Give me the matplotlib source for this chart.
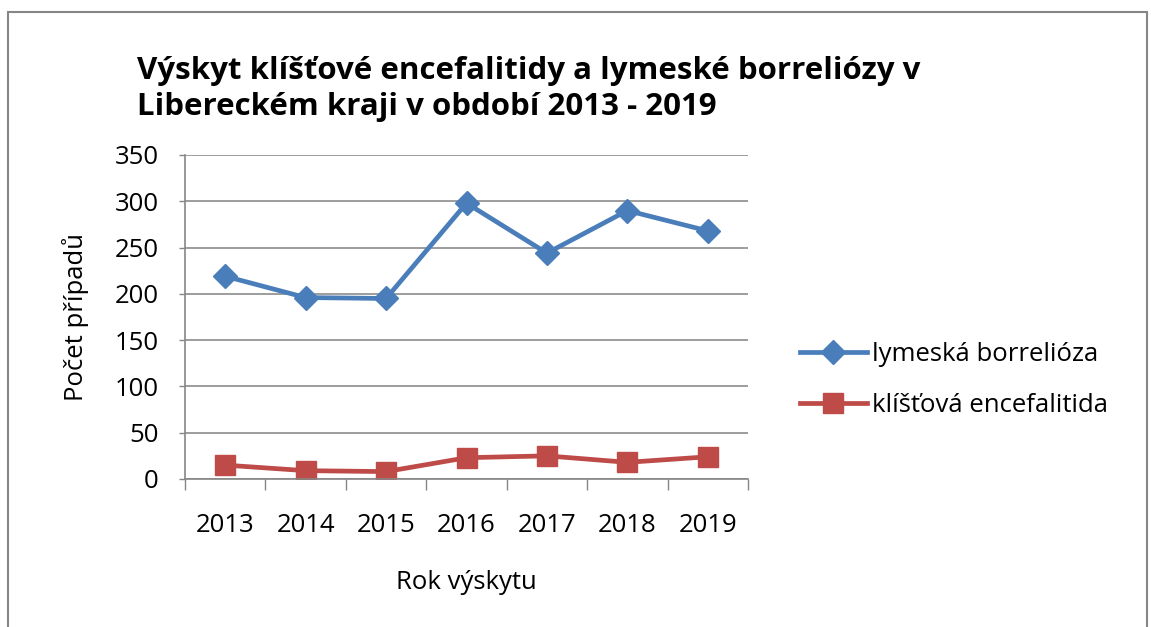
import matplotlib
matplotlib.use("Agg")
import matplotlib.pyplot as plt
from matplotlib.patches import Rectangle
import numpy as np

years = ["2013", "2014", "2015", "2016", "2017", "2018", "2019"]
borrelioza = [219, 196, 195, 298, 244, 290, 268]
encefalitida = [15, 9, 8, 23, 25, 18, 24]
yticks = [0, 50, 100, 150, 200, 250, 300, 350]

title = "Výskyt klíšťové encefalitidy a lymeské borreliózy v\nLibereckém kraji v období 2013 - 2019"
xlabel = "Rok výskytu"
ylabel = "Počet případů"
labels = ["lymeská borrelióza", "klíšťová encefalitida"]

plt.rcParams['font.family'] = ['Open Sans', 'DejaVu Sans']

W, H = 1151, 627
fig = plt.figure(figsize=(W / 100, H / 100), dpi=100)

# outer chart border
fig.patches.append(Rectangle((8 / W, -0.05), (1147 - 8) / W, (H - 12) / H + 0.05,
                             transform=fig.transFigure, fill=False,
                             edgecolor="#868686", linewidth=1.5))

L, R, T, B = 185, 748, 155, 479
ax = fig.add_axes([L / W, 1 - B / H, (R - L) / W, (B - T) / H])

x = np.arange(len(years))
blue = "#4A7EBB"
red = "#BE4B48"
FS = 18.5
ax.plot(x, borrelioza, color=blue, linewidth=3.4, marker="D", markersize=12,
        label=labels[0])
ax.plot(x, encefalitida, color=red, linewidth=3.4, marker="s", markersize=15,
        label=labels[1])

ax.set_xlim(-0.5, len(years) - 0.5)
ax.set_ylim(0, 350)
ax.set_yticks(yticks)
ax.set_yticklabels([str(v) for v in yticks], fontsize=FS)
ax.set_xticks(x)
ax.set_xticklabels(years, fontsize=FS)
ax.set_xticks(np.arange(len(years) + 1) - 0.5, minor=True)
ax.tick_params(axis="x", which="major", length=0, pad=24.5)
ax.tick_params(axis="x", which="minor", length=8, color="#868686", width=1)
ax.tick_params(axis="y", length=4, color="#868686", width=1, pad=15)

ax.grid(axis="y", color="#8c8c8c", linewidth=1.2)
ax.set_axisbelow(True)
for s in ["top", "right"]:
    ax.spines[s].set_visible(False)
for s in ["left", "bottom"]:
    ax.spines[s].set_color("#868686")
    ax.spines[s].set_linewidth(1.2)

ax.set_xlabel(xlabel, fontsize=FS, labelpad=23)
ax.set_ylabel(ylabel, fontsize=FS, labelpad=18)

fig.text(137 / W, 1 - 89 / H, title, fontsize=22.5, fontweight="bold",
         ha="left", va="center", linespacing=1.3)

leg = fig.legend(loc="center left", bbox_to_anchor=(800 / W, 1 - 380 / H),
                 frameon=False, fontsize=FS, handlelength=2.6, borderpad=0,
                 borderaxespad=0, handletextpad=0.2, labelspacing=0.98)

fig.savefig("out.png", dpi=100)
